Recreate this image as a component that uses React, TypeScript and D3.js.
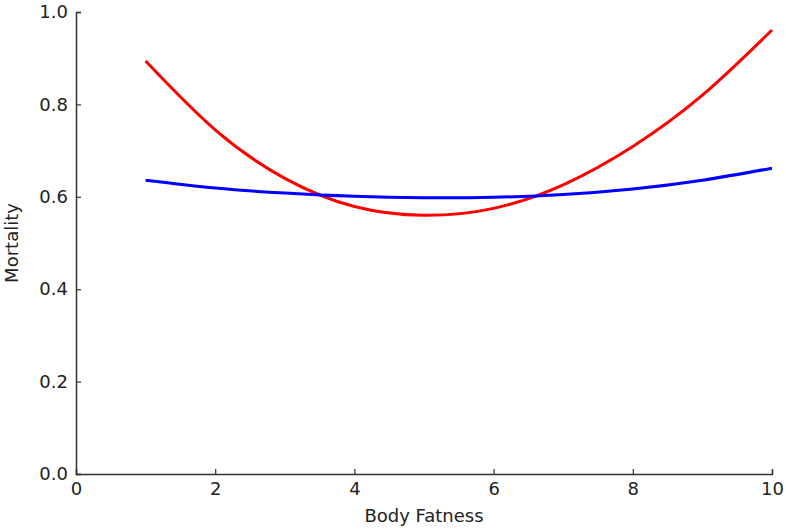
import React, { useEffect, useRef } from 'react';
import * as d3 from 'd3';

// values
const bodyFatness = [1, 2, 3, 4, 5, 6, 7, 8, 9, 10];
const redMortality = [0.894, 0.745, 0.64, 0.579, 0.56, 0.575, 0.626, 0.709, 0.82, 0.961];
const blueMortality = [0.636, 0.619, 0.608, 0.601, 0.598, 0.599, 0.605, 0.617, 0.636, 0.662];
const xTicks = [0, 2, 4, 6, 8, 10];
const yTicks = [0.0, 0.2, 0.4, 0.6, 0.8, 1.0];

const App = () => {
  const svgRef = useRef<SVGSVGElement>(null);

  useEffect(() => {
    const width = 786;
    const height = 530;
    const margin = { top: 12, right: 14, bottom: 56, left: 76 };
    const innerW = width - margin.left - margin.right;
    const innerH = height - margin.top - margin.bottom;
    const font = '"DejaVu Sans", sans-serif';

    const svg = d3.select(svgRef.current);
    svg.selectAll('*').remove();

    const g = svg.append('g').attr('transform', `translate(${margin.left},${margin.top})`);

    const x = d3.scaleLinear().domain([0, 10]).range([0, innerW]);
    const y = d3.scaleLinear().domain([0, 1]).range([innerH, 0]);

    const line = d3.line<number>()
      .x((_, i) => x(bodyFatness[i]))
      .y(d => y(d))
      .curve(d3.curveNatural);

    g.append('path')
      .datum(redMortality)
      .attr('d', line)
      .attr('fill', 'none')
      .attr('stroke', '#ff0000')
      .attr('stroke-width', 3);

    g.append('path')
      .datum(blueMortality)
      .attr('d', line)
      .attr('fill', 'none')
      .attr('stroke', '#0000ff')
      .attr('stroke-width', 3);

    // axes, ticks pointing inward
    const xAxis = g.append('g')
      .attr('transform', `translate(0,${innerH})`)
      .call(d3.axisBottom(x).tickValues(xTicks).tickSize(-5).tickPadding(8).tickFormat(d3.format('d')));

    const yAxis = g.append('g')
      .call(d3.axisLeft(y).tickValues(yTicks).tickSize(-5).tickPadding(8).tickFormat(d3.format('.1f')));

    [xAxis, yAxis].forEach(a => {
      a.select('.domain').attr('stroke', '#333').attr('stroke-width', 1.5);
      a.selectAll('.tick line').attr('stroke', '#333').attr('stroke-width', 1.2);
      a.selectAll('.tick text').attr('font-family', font).attr('font-size', 18).attr('fill', '#222');
    });

    svg.append('text')
      .attr('x', margin.left + innerW / 2)
      .attr('y', 522)
      .attr('text-anchor', 'middle')
      .attr('font-family', font)
      .attr('font-size', 18)
      .attr('fill', '#222')
      .text('Body Fatness');

    svg.append('text')
      .attr('transform', `translate(18,${margin.top + innerH / 2}) rotate(-90)`)
      .attr('text-anchor', 'middle')
      .attr('font-family', font)
      .attr('font-size', 18)
      .attr('fill', '#222')
      .text('Mortality');
  }, []);

  return (
    <svg
      ref={svgRef}
      width={786}
      height={530}
      style={{ position: 'absolute', left: 0, top: 0, background: '#fff' }}
    />
  );
};

export default App;
